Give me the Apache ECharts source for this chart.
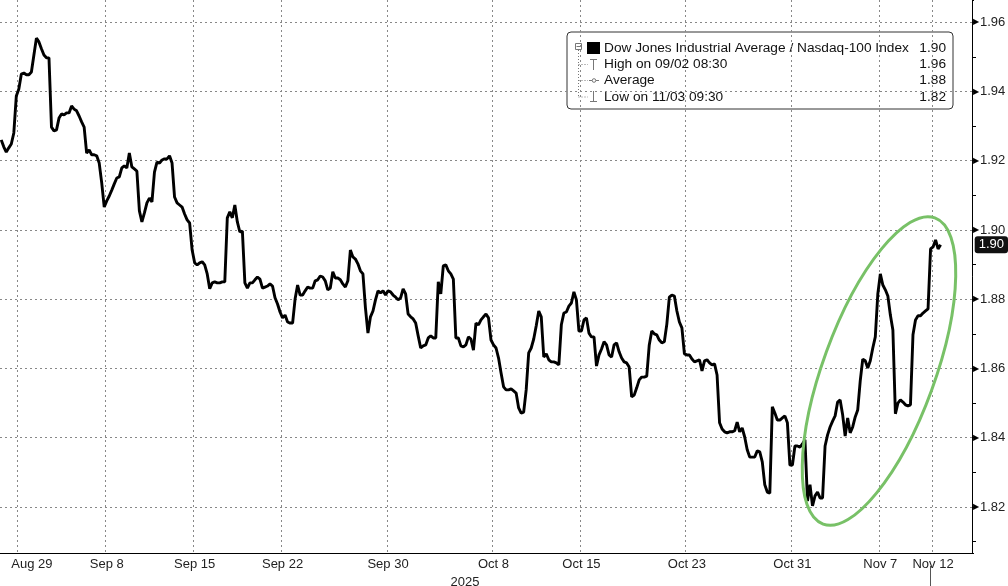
<!DOCTYPE html>
<html>
<head>
<meta charset="utf-8">
<title>Dow Jones / Nasdaq-100</title>
<script src="https://cdn.jsdelivr.net/npm/echarts@6/dist/echarts.min.js"></script>
<style>
  html, body { margin: 0; padding: 0; background: #fff; }
  #chart { width: 1008px; height: 586px; }
</style>
</head>
<body>
<div id="chart"></div>
<script>
// trading sessions on the axis (MM/DD, 2025)
const tradingDays = [
  '08/28','08/29','09/02','09/03','09/04','09/05','09/08','09/09','09/10','09/11','09/12',
  '09/15','09/16','09/17','09/18','09/19','09/22','09/23','09/24','09/25','09/26','09/29',
  '09/30','10/01','10/02','10/03','10/06','10/07','10/08','10/09','10/10','10/13','10/14',
  '10/15','10/16','10/17','10/20','10/21','10/22','10/23','10/24','10/27','10/28','10/29',
  '10/30','10/31','11/03','11/04','11/05','11/06','11/07','11/10','11/11','11/12'
];
// hourly bars in each session
const hours = ['08:30','09:30','10:30','11:30','12:30','13:30','14:30'];
// sessions that get a label and a grid line
const labelDays = ['08/29','09/08','09/15','09/22','09/30','10/08','10/15','10/23','10/31','11/07','11/12'];
const monthNames = { '08': 'Aug', '09': 'Sep', '10': 'Oct', '11': 'Nov' };
// empty slots after the last session
const padSlots = 9;

// DJIA / Nasdaq-100 ratio, one row per session
const ratio = [
  1.9260,1.9240,1.9225,1.9237,1.9248,1.9280,1.9387,
  1.9407,1.9450,1.9453,1.9448,1.9448,1.9456,1.9505,
  1.9554,1.9543,1.9523,1.9505,1.9497,1.9497,1.9297,
  1.9286,1.9289,1.9323,1.9335,1.9332,1.9338,1.9338,
  1.9358,1.9349,1.9344,1.9329,1.9312,1.9297,1.9222,
  1.9231,1.9217,1.9217,1.9214,1.9193,1.9136,1.9066,
  1.9084,1.9098,1.9115,1.9133,1.9150,1.9153,1.9179,
  1.9185,1.9179,1.9222,1.9182,1.9176,1.9170,1.9055,
  1.9023,1.9049,1.9078,1.9092,1.9081,1.9167,1.9196,
  1.9193,1.9202,1.9205,1.9205,1.9214,1.9193,1.9095,
  1.9078,1.9072,1.9066,1.9046,1.9029,1.9020,1.8942,
  1.8905,1.8899,1.8905,1.8908,1.8899,1.8873,1.8830,
  1.8847,1.8850,1.8847,1.8847,1.8850,1.8850,1.9035,
  1.9052,1.9035,1.9072,1.9023,1.8994,1.8997,1.8847,
  1.8832,1.8847,1.8847,1.8856,1.8864,1.8858,1.8832,
  1.8835,1.8838,1.8844,1.8838,1.8804,1.8786,1.8763,
  1.8746,1.8754,1.8734,1.8731,1.8731,1.8801,1.8841,
  1.8812,1.8812,1.8824,1.8835,1.8832,1.8832,1.8853,
  1.8856,1.8867,1.8864,1.8853,1.8827,1.8832,1.8879,
  1.8861,1.8861,1.8856,1.8844,1.8835,1.8853,1.8942,
  1.8922,1.8916,1.8902,1.8882,1.8873,1.8775,1.8702,
  1.8749,1.8766,1.8798,1.8824,1.8818,1.8824,1.8812,
  1.8824,1.8821,1.8812,1.8806,1.8798,1.8804,1.8830,
  1.8815,1.8757,1.8749,1.8743,1.8731,1.8694,1.8659,
  1.8665,1.8668,1.8688,1.8694,1.8688,1.8688,1.8850,
  1.8815,1.8896,1.8899,1.8882,1.8873,1.8858,1.8688,
  1.8688,1.8665,1.8662,1.8668,1.8691,1.8685,1.8653,
  1.8731,1.8726,1.8740,1.8749,1.8757,1.8746,1.8682,
  1.8668,1.8659,1.8630,1.8587,1.8547,1.8538,1.8538,
  1.8541,1.8535,1.8529,1.8486,1.8471,1.8474,1.8538,
  1.8645,1.8659,1.8685,1.8723,1.8766,1.8749,1.8633,
  1.8642,1.8625,1.8619,1.8619,1.8616,1.8610,1.8726,
  1.8760,1.8763,1.8780,1.8789,1.8821,1.8798,1.8708,
  1.8708,1.8740,1.8746,1.8702,1.8691,1.8691,1.8607,
  1.8639,1.8656,1.8677,1.8668,1.8639,1.8633,1.8668,
  1.8674,1.8648,1.8630,1.8619,1.8616,1.8604,1.8518,
  1.8523,1.8544,1.8567,1.8575,1.8575,1.8578,1.8668,
  1.8708,1.8700,1.8697,1.8682,1.8674,1.8677,1.8728,
  1.8806,1.8812,1.8809,1.8766,1.8734,1.8717,1.8642,
  1.8639,1.8639,1.8627,1.8619,1.8622,1.8625,1.8593,
  1.8622,1.8625,1.8616,1.8610,1.8613,1.8581,1.8443,
  1.8425,1.8417,1.8414,1.8417,1.8417,1.8420,1.8445,
  1.8417,1.8428,1.8402,1.8365,1.8344,1.8344,1.8344,
  1.8362,1.8359,1.8330,1.8264,1.8243,1.8240,1.8489,
  1.8471,1.8451,1.8451,1.8457,1.8463,1.8443,1.8321,
  1.8321,1.8376,1.8376,1.8373,1.8382,1.8394,1.8217,
  1.8264,1.8203,1.8232,1.8243,1.8226,1.8226,1.8376,
  1.8408,1.8431,1.8448,1.8463,1.8503,1.8509,1.8466,
  1.8405,1.8457,1.8414,1.8431,1.8460,1.8480,1.8564,
  1.8627,1.8622,1.8601,1.8622,1.8659,1.8691,1.8815,
  1.8873,1.8841,1.8827,1.8809,1.8754,1.8711,1.8469,
  1.8500,1.8509,1.8503,1.8495,1.8492,1.8495,1.8697,
  1.8740,1.8752,1.8752,1.8760,1.8766,1.8772,1.8945,
  1.8951,1.8971,1.8945,1.8957
];
// visible value range of the right axis
const yMin = 1.8067;
const yMax = 1.9664;

const FONT = '"Liberation Sans", Arial, sans-serif';

// categories: every hourly slot of every session, then blank room on the right
const categories = [];
tradingDays.forEach(d => hours.forEach(h => categories.push(d + ' ' + h)));
for (let i = 0; i < padSlots; i++) categories.push('');

const isLabelDay = v => v.endsWith(' ' + hours[0]) && labelDays.includes(v.slice(0, 5));
const shortDate = v => monthNames[v.slice(0, 2)] + ' ' + parseInt(v.slice(3, 5), 10);

// stats for the legend box
const last = ratio[ratio.length - 1];
let maxIdx = 0, minIdx = 0, sum = 0;
ratio.forEach((v, i) => {
  if (v > ratio[maxIdx]) maxIdx = i;
  if (v < ratio[minIdx]) minIdx = i;
  sum += v;
});
const avg = sum / ratio.length;

const chart = echarts.init(document.getElementById('chart'));

// legend box drawn as graphic (Bloomberg style)
const lx = 567, ly = 32;
const rows = [
  ['Dow Jones Industrial Average / Nasdaq-100 Index', last],
  ['High on ' + categories[maxIdx], ratio[maxIdx]],
  ['Average', avg],
  ['Low on ' + categories[minIdx], ratio[minIdx]]
];
const rowY = [48, 64.5, 80.5, 97];
const legendEls = [
  { type: 'rect', shape: { x: lx, y: ly, width: 386, height: 77, r: 4 },
    style: { fill: '#fff', stroke: '#333', lineWidth: 1 } },
  // tree connectors
  { type: 'line', shape: { x1: 578.5, y1: 50, x2: 578.5, y2: 97 }, style: { stroke: '#777', lineDash: [1, 2] } },
  { type: 'line', shape: { x1: 578.5, y1: 64.5, x2: 588, y2: 64.5 }, style: { stroke: '#777', lineDash: [1, 2] } },
  { type: 'line', shape: { x1: 578.5, y1: 80.5, x2: 588, y2: 80.5 }, style: { stroke: '#777', lineDash: [1, 2] } },
  { type: 'line', shape: { x1: 578.5, y1: 97, x2: 588, y2: 97 }, style: { stroke: '#777', lineDash: [1, 2] } },
  // collapse box
  { type: 'rect', shape: { x: 575.5, y: 43.5, width: 6, height: 6 }, style: { fill: '#fff', stroke: '#777' } },
  { type: 'line', shape: { x1: 576.5, y1: 46.5, x2: 581, y2: 46.5 }, style: { stroke: '#777' } },
  // series swatch
  { type: 'rect', shape: { x: 587, y: 42, width: 13, height: 12 }, style: { fill: '#000' } },
  // high marker
  { type: 'line', shape: { x1: 590, y1: 59.5, x2: 597, y2: 59.5 }, style: { stroke: '#777' } },
  { type: 'line', shape: { x1: 593.5, y1: 59.5, x2: 593.5, y2: 70 }, style: { stroke: '#777' } },
  // average marker
  { type: 'line', shape: { x1: 589, y1: 80.5, x2: 599, y2: 80.5 }, style: { stroke: '#777' } },
  { type: 'circle', shape: { cx: 594, cy: 80.5, r: 1.8 }, style: { fill: '#fff', stroke: '#777' } },
  // low marker
  { type: 'line', shape: { x1: 593.5, y1: 91, x2: 593.5, y2: 101.5 }, style: { stroke: '#777' } },
  { type: 'line', shape: { x1: 590, y1: 101.5, x2: 597, y2: 101.5 }, style: { stroke: '#777' } }
];
rows.forEach((r, i) => {
  legendEls.push({ type: 'text', x: 604, y: rowY[i],
    style: { text: r[0], font: '13.7px ' + FONT, fill: '#111', textVerticalAlign: 'middle' } });
  legendEls.push({ type: 'text', x: 946, y: rowY[i],
    style: { text: r[1].toFixed(2), font: '13.7px ' + FONT, fill: '#111', textAlign: 'right', textVerticalAlign: 'middle' } });
});

const option = {
  animation: false,
  backgroundColor: '#fff',
  grid: { left: 0, right: 36, top: 0, bottom: 33, outerBoundsMode: 'none', containLabel: false },
  xAxis: {
    type: 'category',
    data: categories,
    boundaryGap: true,
    axisLine: { lineStyle: { color: '#000', width: 1 } },
    axisTick: {
      interval: (i, v) => v.endsWith(' ' + hours[0]),
      length: 4,
      lineStyle: { color: '#000' }
    },
    axisLabel: {
      interval: (i, v) => isLabelDay(v),
      formatter: (v) => v.startsWith(labelDays[0]) ? '{first|' + shortDate(v) + '}' : shortDate(v),
      margin: 5,
      color: '#222',
      fontFamily: FONT,
      fontSize: 13,
      rich: { first: { padding: [0, 0, 0, 26], fontSize: 13, fontFamily: FONT, color: '#222' } }
    },
    splitLine: {
      show: true,
      interval: (i, v) => isLabelDay(v),
      lineStyle: { color: '#888', type: [2, 3], width: 1 }
    },
    name: '2025',
    nameLocation: 'middle',
    nameGap: 18,
    nameTextStyle: { color: '#222', fontFamily: FONT, fontSize: 13, padding: [0, 42, 0, 0] }
  },
  yAxis: {
    type: 'value',
    position: 'right',
    min: yMin,
    max: yMax,
    splitNumber: 8,
    axisLine: { show: true, lineStyle: { color: '#000', width: 1 } },
    axisTick: { show: true, length: 2, lineStyle: { color: '#000' } },
    minorTick: { show: true, splitNumber: 2, length: 4, lineStyle: { color: '#000' } },
    axisLabel: {
      showMinLabel: false,
      showMaxLabel: false,
      margin: 1,
      formatter: v => '{t|\u25B6}{v|' + v.toFixed(2) + '}',
      rich: {
        t: { fontSize: 8, color: '#000', padding: [0, 1, 0, 0] },
        v: { fontSize: 13, color: '#222', fontFamily: FONT }
      }
    },
    splitLine: {
      show: true,
      showMinLine: false,
      showMaxLine: false,
      lineStyle: { color: '#888', type: [2, 3], width: 1 }
    },
    axisPointer: {
      show: true,
      value: last,
      status: 'show',
      triggerTooltip: false,
      lineStyle: { opacity: 0 },
      label: {
        show: true,
        formatter: p => p.value.toFixed(2),
        backgroundColor: '#111',
        color: '#fff',
        fontFamily: FONT,
        fontSize: 13,
        padding: [2, 4, 2, 4],
        borderRadius: 3,
        margin: 3
      }
    }
  },
  series: [{
    type: 'line',
    data: ratio,
    showSymbol: false,
    symbol: 'none',
    lineStyle: { color: '#000', width: 2.9 },
    z: 3
  }],
  graphic: [
    // green highlight ring around the November rebound
    { type: 'ellipse', x: 879, y: 371, rotation: -0.35, z: 100,
      shape: { cx: 0, cy: 0, rx: 56, ry: 163 },
      style: { fill: 'none', stroke: '#78c167', lineWidth: 3 } },
    { type: 'group', z: 110, children: legendEls },
    { type: 'line', z: 100, shape: { x1: 930.5, y1: 566, x2: 930.5, y2: 586 }, style: { stroke: '#555' } }
  ]
};

chart.setOption(option);
</script>
</body>
</html>
